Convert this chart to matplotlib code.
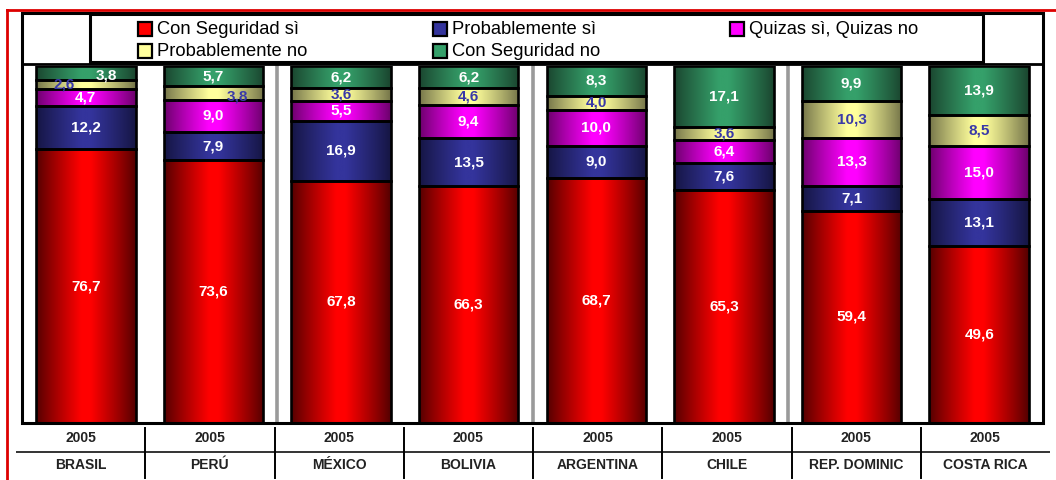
import numpy as np
import matplotlib
matplotlib.use("Agg")
import matplotlib.pyplot as plt
from matplotlib.colors import LinearSegmentedColormap
from matplotlib.patches import Rectangle
from matplotlib.lines import Line2D

plt.rcParams['font.family'] = ['Liberation Sans', 'DejaVu Sans']

paises = ["BRASIL", "PERÚ", "MÉXICO", "BOLIVIA", "ARGENTINA", "CHILE", "REP. DOMINIC", "COSTA RICA"]
anio = "2005"

series = ["Con Seguridad sì", "Probablemente sì", "Quizas sì, Quizas no",
          "Probablemente no", "Con Seguridad no"]
con_seg_si = [76.7, 73.6, 67.8, 66.3, 68.7, 65.3, 59.4, 49.6]
prob_si = [12.2, 7.9, 16.9, 13.5, 9.0, 7.6, 7.1, 13.1]
quizas = [4.7, 9.0, 5.5, 9.4, 10.0, 6.4, 13.3, 15.0]
prob_no = [2.6, 3.8, 3.6, 4.6, 4.0, 3.6, 10.3, 8.5]
con_seg_no = [3.8, 5.7, 6.2, 6.2, 8.3, 17.1, 9.9, 13.9]
valores = [con_seg_si, prob_si, quizas, prob_no, con_seg_no]

# (oscuro, claro) para el degradado tipo cilindro de cada serie
tonos = [("#520000", "#ff0000"),
         ("#151542", "#34349c"),
         ("#6a006a", "#ff00ff"),
         ("#737348", "#ffff9c"),
         ("#1a442e", "#35a06a")]
col_texto = ["white", "white", "white", "#3a3aa8", "white"]

# desplazamientos de algunas etiquetas pequeñas (en unidades de datos)
ajustes = {(0, 3): (-0.17, 0.0), (0, 4): (0.16, -0.9), (1, 3): (0.19, -1.0)}

W, H = 1056, 480
fig = plt.figure(figsize=(W / 100, H / 100), dpi=100)


def px(x, y):
    return x / W, 1 - y / H


# marco rojo exterior
fig.add_artist(Line2D([7 / W, 1], [1 - 10 / H] * 2, color="#dd0000", lw=2.0))
fig.add_artist(Line2D([7 / W] * 2, [0, 1 - 10 / H], color="#dd0000", lw=2.0))

x0, y0 = px(22, 423)
x1, y1 = px(1043, 66)
ax = fig.add_axes([x0, y0, x1 - x0, y1 - y0])
for s in ax.spines.values():
    s.set_visible(False)
ax.set_xticks([])
ax.set_yticks([])

x = np.arange(len(paises))
grad = np.concatenate([np.linspace(0, 1, 120) ** 0.9, np.ones(24),
                       np.linspace(1, 0, 120) ** 0.9]).reshape(1, -1)
base = np.zeros(len(paises))
for k, vals in enumerate(valores):
    cmap = LinearSegmentedColormap.from_list(f"c{k}", tonos[k])
    barras = ax.bar(x, vals, bottom=base, width=0.78, color="none",
                    edgecolor="black", linewidth=1.9, zorder=3)
    for i, p in enumerate(barras.patches):
        bx, by, bw, bh = p.get_x(), p.get_y(), p.get_width(), p.get_height()
        ax.imshow(grad, cmap=cmap, aspect="auto", interpolation="bilinear",
                  extent=[bx, bx + bw, by, by + bh], zorder=2)
        dx, dy = ajustes.get((i, k), (0, 0))
        ax.text(bx + bw / 2 + dx, by + bh / 2 + dy, f"{vals[i]:.1f}".replace(".", ","),
                ha="center", va="center", fontsize=11, fontweight="bold",
                color=col_texto[k], zorder=4)
    base += np.array(vals)

ax.set_xlim(-0.5, len(paises) - 0.5)
ax.set_ylim(0, 100)

# separadores grises entre pares de países
for xs in [1.5, 3.5, 5.5]:
    ax.add_line(Line2D([xs, xs], [0, 100.8], color="#9a9a9a", lw=2.6,
                       clip_on=False, zorder=1))

# marco del gráfico y zona de leyenda
fx0, fy0 = px(22, 423)
fx1, fy1 = px(1043, 13)
fig.add_artist(Rectangle((fx0, fy0), fx1 - fx0, fy1 - fy0, fill=False,
                         edgecolor="black", lw=2.2, zorder=5))
fig.add_artist(Line2D([fx0, fx1], [1 - 64 / H] * 2, color="black", lw=2.0))
lx0, ly0 = px(90, 62)
lx1, ly1 = px(983, 14)
fig.add_artist(Rectangle((lx0, ly0), lx1 - lx0, ly1 - ly0, facecolor="white",
                         edgecolor="black", lw=2.2, zorder=5))

# leyenda: orden por filas
pos_leyenda = [(138, 29), (433, 29), (730, 29), (138, 51), (433, 51)]
for k, (lx, ly) in enumerate(pos_leyenda):
    mx, my = px(lx, ly + 7)
    fig.add_artist(Rectangle((mx, my), 14 / W, 14 / H, facecolor=tonos[k][1],
                             edgecolor="black", lw=1.6, zorder=6))
    tx, ty = px(lx + 19, ly)
    fig.text(tx, ty, series[k], ha="left", va="center", fontsize=13.2, zorder=6)

# tabla inferior con año y país
tx0, ty0 = px(16, 480)
tx1, ty1 = px(1050, 425)
tab = fig.add_axes([tx0, ty0, tx1 - tx0, ty1 - ty0])
tab.set_xlim(0, len(paises))
tab.set_ylim(0, 1)
tab.axis("off")
tab.axhline(0.515, color="#333333", lw=1.4)
for b in range(1, len(paises)):
    tab.plot([b, b], [0.03, 0.95], color="black", lw=1.4)
for i, nombre in enumerate(paises):
    tab.text(i + 0.5, 0.76, anio, ha="center", va="center", fontsize=10,
             fontweight="bold", color="#222222")
    tab.text(i + 0.5, 0.27, nombre, ha="center", va="center", fontsize=10,
             fontweight="bold", color="#222222")

fig.savefig("out.png", dpi=100)
